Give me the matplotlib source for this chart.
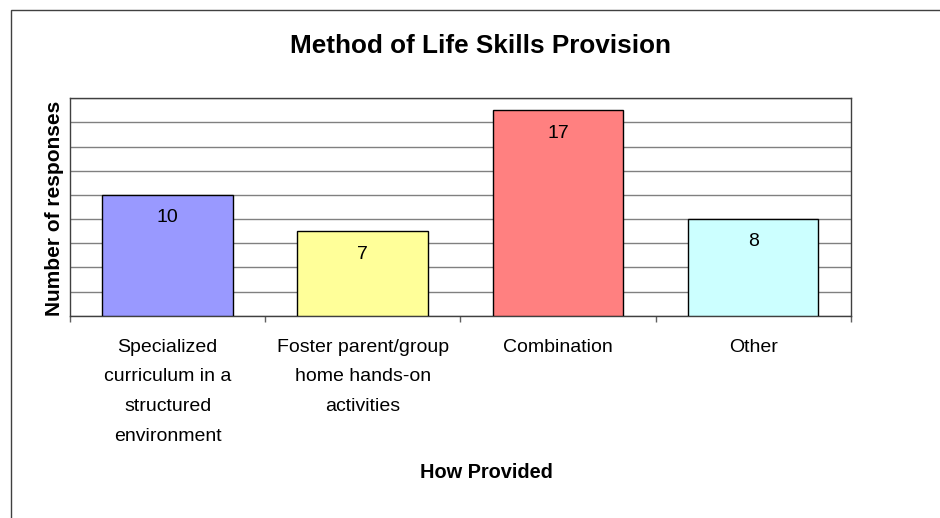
import matplotlib.pyplot as plt
from matplotlib.patches import Rectangle

# ------------------------------------------------------------------
# Dados
# ------------------------------------------------------------------
categorias = [
    "Specialized\ncurriculum in a\nstructured\nenvironment",
    "Foster parent/group\nhome hands-on\nactivities",
    "Combination",
    "Other",
]
respostas = [10, 7, 17, 8]
cores = ["#9999FF", "#FFFF99", "#FF8080", "#CCFFFF"]

TITULO = "Method of Life Skills Provision"
XLABEL = "How Provided"
YLABEL = "Number of responses"
YMAX = 18
PASSO = 2

plt.rcParams["font.family"] = ["Liberation Sans", "DejaVu Sans"]

W, H = 940, 518
fig = plt.figure(figsize=(W / 100, H / 100), dpi=100)

# moldura externa (estilo Excel)
fig.patches.append(Rectangle((11 / W, -0.1), 1.2, (H - 10) / H + 0.1,
                             transform=fig.transFigure, fill=False,
                             edgecolor="#404040", linewidth=1.0))

ax = fig.add_axes([70 / W, (H - 315.7) / H, 780.7 / W, 217.4 / H])

x = range(len(categorias))
ax.bar(x, respostas, width=0.67, color=cores, edgecolor="black",
       linewidth=1.0, zorder=3)

for xi, v in zip(x, respostas):
    ax.annotate(str(v), xy=(xi, v), xytext=(0, -16.5), textcoords="offset points",
                ha="center", va="center", fontsize=14, zorder=4)

ax.set_xlim(-0.5, len(categorias) - 0.5)
ax.set_ylim(0, YMAX)
ax.set_yticks(range(0, YMAX + 1, PASSO))
ax.yaxis.grid(True, color="#808080", linewidth=1.0, zorder=0)
ax.tick_params(axis="y", length=0, labelleft=False)

ax.set_xticks(list(x))
ax.set_xticklabels(categorias, fontsize=14, linespacing=1.98)
ax.tick_params(axis="x", which="major", length=0, pad=16.5)
ax.set_xticks([i - 0.5 for i in range(len(categorias) + 1)], minor=True)
ax.tick_params(axis="x", which="minor", length=4.3, width=1.0,
               color="#606060", direction="out")

for s in ax.spines.values():
    s.set_color("#404040")
    s.set_linewidth(1.0)

fig.text(481 / W, 1 - 53 / H, TITULO, ha="center", va="baseline",
         fontsize=18.8, fontweight="bold")
fig.text(486 / W, 1 - 472 / H, XLABEL, ha="center", va="center",
         fontsize=14.4, fontweight="bold")
fig.text(55 / W, 1 - 208 / H, YLABEL, ha="center", va="center",
         rotation=90, fontsize=15, fontweight="bold")

fig.savefig("out.png", dpi=100)
